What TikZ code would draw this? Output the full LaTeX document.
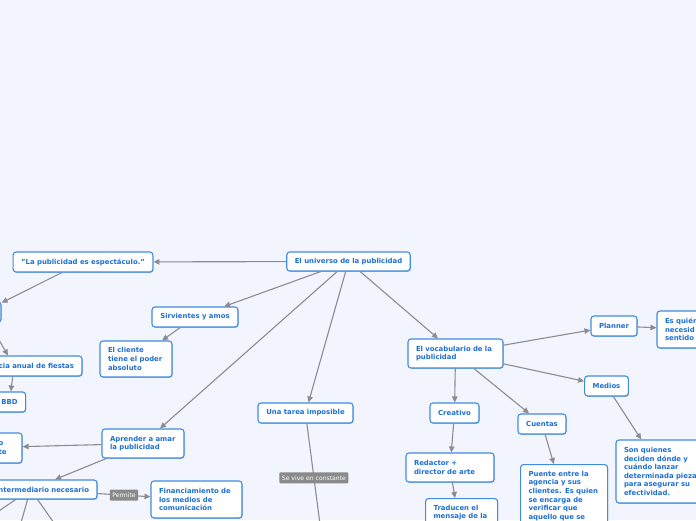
\documentclass[tikz,border=0pt]{standalone}
\usepackage{fontspec}
\setmainfont{DejaVu Sans}
\usetikzlibrary{arrows.meta,shadows}
\definecolor{bgcol}{HTML}{F2F5FD}
\definecolor{nborder}{HTML}{3F8CE0}
\definecolor{ntext}{HTML}{1E6FD4}
\definecolor{conngray}{HTML}{8C8C90}
\definecolor{lblgray}{HTML}{8A8A8A}
\tikzset{
  box/.style={draw=nborder, fill=white, line width=1.1pt, rounded corners=3pt,
    text=ntext, font=\bfseries\fontsize{6.9}{8.6}\selectfont, inner xsep=8pt, inner ysep=3pt,
    drop shadow={shadow xshift=0.6pt, shadow yshift=-0.8pt, fill=nborder!60!black, opacity=0.4}},
  conn/.style={draw=conngray, line width=1.1pt, -{Triangle[length=6pt,width=5.5pt]}},
  plainconn/.style={draw=conngray, line width=1.1pt},
  lbl/.style={fill=lblgray, text=white, font=\fontsize{6.1}{7}\selectfont, inner xsep=2.5pt,
    inner ysep=0pt, minimum height=11pt, rounded corners=1pt},
  txt/.style={text=ntext, font=\bfseries\fontsize{6.9}{8.6}\selectfont, inner sep=0pt}
}
\begin{document}
\begin{tikzpicture}[x=1pt,y=-1pt]
\fill[bgcol] (0,0) rectangle (696,520);
\useasboundingbox (0,0) rectangle (696,520);
\clip (0,0) rectangle (696,520);

% nodes
\node[box, minimum width=123pt, minimum height=19pt] (univ) at (348.5,261.5) {El universo de la publicidad};
\node[box, minimum width=138pt, minimum height=20pt] (espec) at (83,262) {"La publicidad es espectáculo."};
\node[box, minimum width=36pt, minimum height=20pt] (pol) at (-17,312) {};
\node[box, text width=120pt, align=right, minimum height=20pt] (fie) at (14,366) {cia anual de fiestas};
\node[box, minimum width=31pt, minimum height=20pt] (bbd) at (9.5,402) {BBD};
\node[box, minimum width=104pt, minimum height=30pt] (n8) at (-30,448) {};
\node[txt, anchor=west, align=left] (n8t) at (-1.5,448) {o\\te};
\node[box, minimum width=86pt, minimum height=20pt] (sirv) at (195,317) {Sirvientes y amos};
\node[box, text width=56pt, align=left, minimum height=36pt] (cli) at (136,359) {El cliente\\tiene el poder\\absoluto};
\node[box, text width=66pt, align=left, minimum height=29pt] (apr) at (143,443.5) {Aprender a amar\\la publicidad};
\node[box, text width=117pt, align=right, minimum height=19pt] (inter) at (30.5,489.5) {intermediario necesario};
\node[box, text width=75pt, align=left, minimum height=37pt] (fin) at (196.5,499.5) {Financiamiento de\\los medios de\\comunicación};
\node[box, minimum width=95pt, minimum height=20pt] (tarea) at (305.5,413) {Una tarea imposible};
\node[box, text width=79pt, align=left, minimum height=29pt] (voc) at (455.5,353.5) {El vocabulario de la\\publicidad};
\node[box, minimum width=46pt, minimum height=20pt] (plan) at (614,326) {Planner};
\node[box, text width=74pt, align=left, minimum height=37pt] (esq) at (702,329.5) {Es quién\\necesid\\sentido};
\node[box, minimum width=43pt, minimum height=20pt] (med) at (606.5,386) {Medios};
\node[box, minimum width=49pt, minimum height=20pt] (cre) at (454.5,413) {Creativo};
\node[box, minimum width=48pt, minimum height=20pt] (cue) at (542,424) {Cuentas};
\node[box, text width=72pt, align=left, minimum height=29pt] (red) at (450,467.5) {Redactor +\\director de arte};
\node[box, text width=76pt, align=left, minimum height=63pt] (son) at (662,471.5) {Son quienes\\deciden dónde y\\cuándo lanzar\\determinada pieza\\para asegurar su\\efectividad.};
\node[box, anchor=north west, text width=71pt, align=left, inner ysep=6.5pt, text depth=50pt] (pue) at (520,464) {Puente entre la\\agencia y sus\\clientes. Es quien\\se encarga de\\verificar que\\aquello que se};
\node[box, anchor=north west, text width=56pt, align=left, inner ysep=6.5pt, text depth=60pt] (tra) at (425,498) {Traducen el\\mensaje de la};

% free ends of connectors leaving the picture
\coordinate (c1) at (-44,540);
\coordinate (c2) at (16,540);
\coordinate (c3) at (66,540);
\coordinate (c4) at (321,532);

% connectors
\draw[conn] (univ) -- (espec);
\draw[conn] (espec) -- (pol);
\draw[conn] (pol) -- (fie);
\draw[conn] (fie) -- (bbd);
\draw[conn] (univ) -- (sirv);
\draw[conn] (sirv) -- (cli);
\draw[conn] (univ) -- (apr);
\draw[conn] (apr) -- (n8);
\draw[conn] (apr) -- (inter);
\draw[conn] (inter) -- node[lbl] {Permite} (fin);
\draw[plainconn] (inter) -- (c1);
\draw[plainconn] (inter) -- (c2);
\draw[plainconn] (inter) -- (c3);
\draw[conn] (univ) -- (tarea);
\draw[plainconn] (tarea) -- node[lbl] {Se vive en constante} (c4);
\draw[conn] (univ) -- (voc);
\draw[conn] (voc) -- (plan);
\draw[conn] (voc) -- (med);
\draw[conn] (voc) -- (cre);
\draw[conn] (voc) -- (cue);
\draw[conn] (plan) -- (esq);
\draw[conn] (med) -- (son);
\draw[conn] (cre) -- (red);
\draw[conn] (cue) -- (pue);
\draw[conn] (red) -- (tra);
\end{tikzpicture}
\end{document}
